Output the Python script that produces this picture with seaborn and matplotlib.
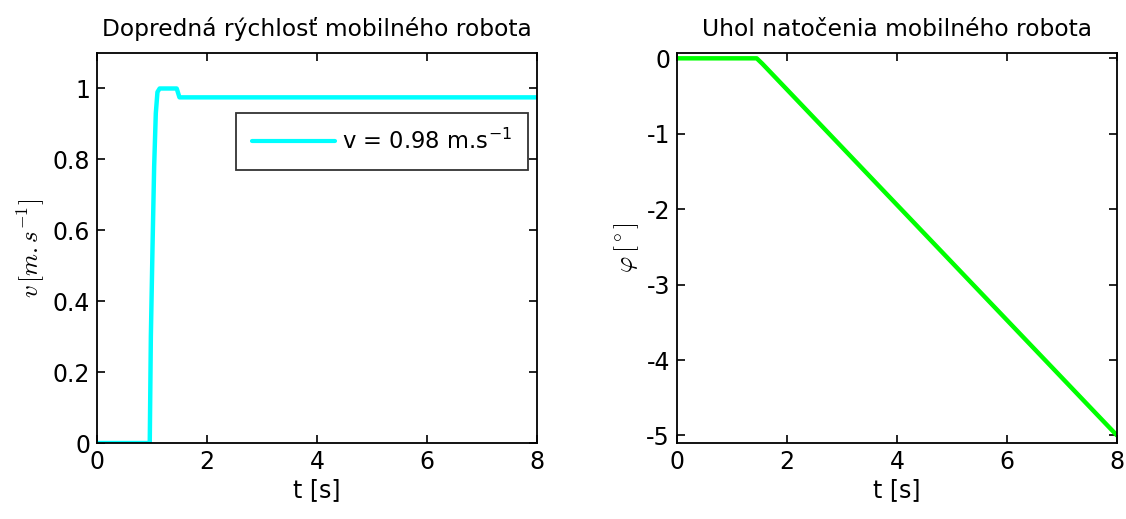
import matplotlib
matplotlib.use("Agg")
import matplotlib.pyplot as plt
import seaborn as sns
import pandas as pd

# Forward velocity of the mobile robot [m/s]
t_v = [0.0, 0.96, 0.98, 1.01, 1.04, 1.07, 1.10, 1.14, 1.45, 1.50, 1.60, 8.0]
v = [0.0, 0.0, 0.30, 0.55, 0.78, 0.93, 0.99, 1.0, 1.0, 0.975, 0.975, 0.975]

# Heading angle of the mobile robot
t_phi = [0.0, 1.45, 1.55, 8.0]
phi = [0.0, 0.0, -0.07, -5.0]

x_ticks = [0, 2, 4, 6, 8]
v_ticks = [0, 0.2, 0.4, 0.6, 0.8, 1]
v_tick_labels = ["0", "0.2", "0.4", "0.6", "0.8", "1"]
phi_ticks = [0, -1, -2, -3, -4, -5]

sns.set_theme(style="white")
plt.rcParams["font.family"] = ["DejaVu Sans"]
plt.rcParams["mathtext.fontset"] = "cm"
plt.rcParams["text.color"] = "black"
plt.rcParams["axes.labelcolor"] = "black"
plt.rcParams["legend.labelcolor"] = "black"

fig = plt.figure(figsize=(11.26, 5.19), dpi=100)
ax1 = fig.add_axes([0.0861, 0.1464, 0.3908, 0.7514])
ax2 = fig.add_axes([0.6012, 0.1464, 0.3908, 0.7514])

df_v = pd.DataFrame({"t": t_v, "v": v})
df_phi = pd.DataFrame({"t": t_phi, "phi": phi})

sns.lineplot(data=df_v, x="t", y="v", ax=ax1, color="#00FFFF", linewidth=3.2,
             label=r"v = 0.98 m.s$^{\mathregular{-1}}$", estimator=None, sort=False)
sns.lineplot(data=df_phi, x="t", y="phi", ax=ax2, color="#00FF00", linewidth=3.2,
             estimator=None, sort=False)

fs = 17
for ax in (ax1, ax2):
    ax.set_xlim(0, 8)
    ax.set_xticks(x_ticks)
    ax.set_xticklabels([str(x) for x in x_ticks])
    for s in ax.spines.values():
        s.set_visible(True)
        s.set_color("black")
        s.set_linewidth(1.3)
    ax.tick_params(direction="in", length=6, width=1.2, colors="black",
                   top=True, right=True, bottom=True, left=True,
                   labelsize=fs, pad=5)
    ax.set_xlabel("t [s]", fontsize=fs, labelpad=3, color="black")

ax1.set_ylim(0, 1.1)
ax1.set_yticks(v_ticks)
ax1.set_yticklabels(v_tick_labels)
ax1.set_ylabel(r"$v\,[m.s^{-1}]$", fontsize=18, labelpad=4, color="black")
ax1.set_title("Dopredná rýchlosť mobilného robota", fontsize=16.8, pad=12,
              color="black")

ax2.set_ylim(-5.1, 0.07)
ax2.set_yticks(phi_ticks)
ax2.set_yticklabels([str(p) for p in phi_ticks])
ax2.set_ylabel(r"$\varphi\,[^\circ]$", fontsize=18, labelpad=4, color="black")
ax2.set_title("Uhol natočenia mobilného robota", fontsize=16.8, pad=12,
              color="black")

leg = ax1.legend(loc="upper right", bbox_to_anchor=(0.98, 0.846), fontsize=16.3,
                 frameon=True, fancybox=False, handlelength=3.7,
                 handletextpad=0.3, borderpad=0.7, borderaxespad=0)
leg.get_frame().set_edgecolor("black")
leg.get_frame().set_linewidth(1.3)
leg.get_lines()[0].set_linewidth(3.0)
for txt in leg.get_texts():
    txt.set_color("black")

fig.savefig("out.png", dpi=100, facecolor="white")
